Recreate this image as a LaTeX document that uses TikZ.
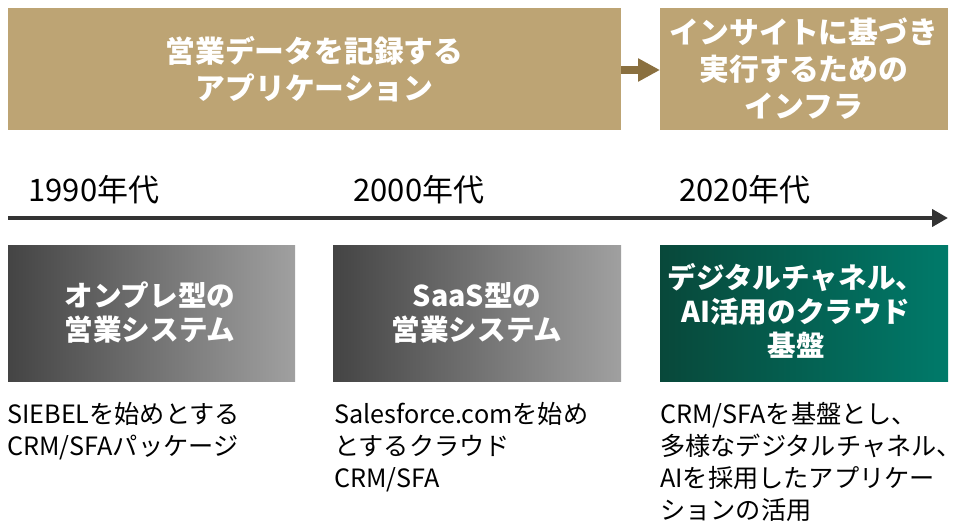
\documentclass[tikz,border=0pt]{standalone}
\usepackage{fontspec}
\setmainfont{Noto Sans CJK JP}
\usetikzlibrary{arrows.meta}
\definecolor{sand}{RGB}{189,164,116}
\definecolor{sanddark}{RGB}{138,112,64}
\definecolor{axisgray}{RGB}{51,51,51}
\definecolor{greyL}{RGB}{68,68,68}
\definecolor{greyR}{RGB}{160,160,160}
\definecolor{greenL}{RGB}{8,72,58}
\definecolor{greenR}{RGB}{0,122,106}
\tikzset{
  topbox/.style={fill=sand, draw=none},
  toptext/.style={text=white, font=\bfseries\fontsize{29.8}{37}\selectfont, align=center},
  midtext/.style={text=white, font=\bfseries\fontsize{28.6}{34}\selectfont, align=center},
  era/.style={font=\fontsize{31}{34}\selectfont, anchor=west, text=black},
  desc/.style={font=\fontsize{25.2}{32}\selectfont, align=left, anchor=north west, inner sep=0pt, text=black},
}
\begin{document}
\begin{tikzpicture}[x=1pt,y=-1pt]
\useasboundingbox (0,0) rectangle (964,524);
% upper banner boxes
\fill[topbox] (8,8) rectangle (621,130);
\fill[topbox] (660,8) rectangle (948,130);
\node[toptext] (t1) at (314.5,69) {営業データを記録する\\アプリケーション};
\node[toptext] (t2) at (804,69) {インサイトに基づき\\実行するための\\インフラ};
\coordinate (a1) at (621,70);
\coordinate (a2) at (660,70);
\draw[sanddark, line width=8pt, -{Triangle[length=22pt,width=22pt]}] (a1) -- (a2);
% era labels
\node[era] (e1) at (25,190) {1990年代};
\node[era] (e2) at (350,190) {2000年代};
\node[era] (e3) at (676,190) {2020年代};
% time axis
\coordinate (ax0) at (8,218);
\coordinate (ax1) at (948,218);
\draw[axisgray, line width=4pt, -{Triangle[length=16pt,width=17pt]}] (ax0) -- (ax1);
% system boxes
\shade[left color=greyL, right color=greyR] (8,245) rectangle (295,381);
\shade[left color=greyL, right color=greyR] (333,245) rectangle (621,381);
\shade[left color=greenL, right color=greenR] (660,245) rectangle (948,381);
\node[midtext] (b1) at (150,313) {オンプレ型の\\営業システム};
\node[midtext] (b2) at (477,313) {SaaS型の\\営業システム};
\node[midtext] (b3) at (796,311) {デジタルチャネル、\\AI活用のクラウド\\基盤};
% descriptions
\node[desc] (d1) at (7,402.5) {SIEBELを始めとする\\CRM/SFAパッケージ};
\node[desc] (d2) at (334,402.5) {Salesforce.comを始め\\とするクラウド\\CRM/SFA};
\node[desc] (d3) at (660,402.5) {CRM/SFAを基盤とし、\\多様なデジタルチャネル、\\AIを採用したアプリケー\\ションの活用};
\end{tikzpicture}
\end{document}
